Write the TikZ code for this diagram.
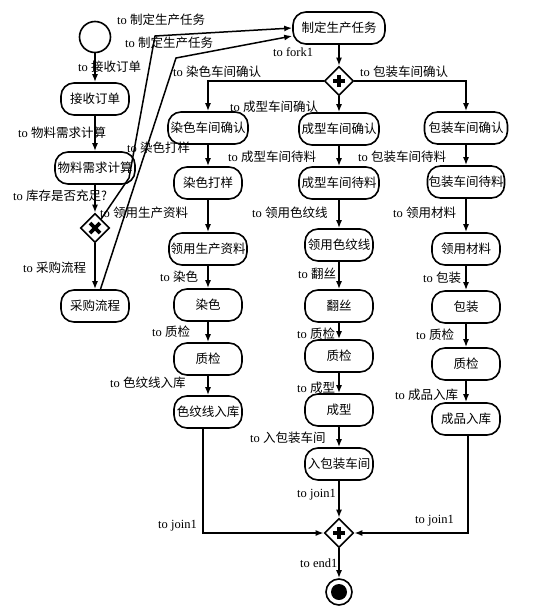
\documentclass[tikz,border=0pt]{standalone}
\usepackage{fontspec}
\setmainfont{Liberation Serif}
\newfontfamily\cjk{Noto Sans CJK SC}
\usetikzlibrary{arrows.meta, positioning, shapes.geometric}

\newcommand{\zh}[1]{{\cjk #1}}

\tikzset{
  act/.style={draw, rounded corners=13pt, line width=1.6pt, minimum width=68pt, minimum height=32pt, inner xsep=1pt, fill=white, font=\fontsize{12.5}{14}\selectfont\cjk},
  lbl/.style={anchor=west, inner sep=0pt, font=\fontsize{12.5}{14}\selectfont},
  flow/.style={line width=1.5pt, -{Latex[length=8pt,width=6pt]}},
  gate/.style={diamond, draw, line width=1.6pt, minimum width=29pt, minimum height=29pt, inner sep=0pt, fill=white},
  forkbar/.style={gate, path picture={
    \draw[line width=3.8pt] ([xshift=-6pt]path picture bounding box.center) -- ([xshift=6pt]path picture bounding box.center);
    \draw[line width=3.8pt] ([yshift=-6pt]path picture bounding box.center) -- ([yshift=6pt]path picture bounding box.center);}},
  choice/.style={gate, path picture={
    \draw[line width=3.8pt] ([shift={(-5pt,-5pt)}]path picture bounding box.center) -- ([shift={(5pt,5pt)}]path picture bounding box.center);
    \draw[line width=3.8pt] ([shift={(-5pt,5pt)}]path picture bounding box.center) -- ([shift={(5pt,-5pt)}]path picture bounding box.center);}}
}

\begin{document}
\begin{tikzpicture}[x=1pt, y=-1pt]
\useasboundingbox (0,0) rectangle (534,616);

% left: order and material check
\node (start) at (95,37) [draw, circle, line width=1.6pt, minimum size=31pt] {};
\node (jieshou) at (95,99) [act] {接收订单};
\node (wuliao) at (95,168) [act, minimum width=80pt] {物料需求计算};
\node (pan) at (95,228) [choice] {};
\node (caigou) at (95,306) [act] {采购流程};

% top
\node (zd) at (339,28) [act, minimum width=92pt] {制定生产任务};
\node (fork1) at (339,81) [forkbar] {};

% dyeing workshop
\node (ran1) at (208,128) [act, minimum width=80pt] {染色车间确认};
\node (ran2) at (208,183) [act] {染色打样};
\node (ran3) at (208,249) [act, minimum width=78pt] {领用生产资料};
\node (ran4) at (208,305) [act] {染色};
\node (ran5) at (208,359) [act] {质检};
\node (ran6) at (208,412) [act] {色纹线入库};

% forming workshop
\node (cheng1) at (339,129) [act, minimum width=80pt] {成型车间确认};
\node (cheng2) at (339,183) [act, minimum width=80pt] {成型车间待料};
\node (cheng3) at (339,245) [act] {领用色纹线};
\node (cheng4) at (339,306) [act] {翻丝};
\node (cheng5) at (339,356) [act] {质检};
\node (cheng6) at (339,410) [act] {成型};
\node (cheng7) at (339,464) [act] {入包装车间};

% packing workshop
\node (bao1) at (466,128) [act, minimum width=83pt] {包装车间确认};
\node (bao2) at (466,182) [act] {包装车间待料};
\node (bao3) at (466,249) [act] {领用材料};
\node (bao4) at (466,307) [act] {包装};
\node (bao5) at (466,364) [act] {质检};
\node (bao6) at (466,419) [act] {成品入库};

% end
\node (join1) at (339,533) [forkbar] {};
\node (end1) at (339,592) [draw, circle, line width=1.6pt, minimum size=26pt, inner sep=0pt, path picture={\fill (path picture bounding box.center) circle (8pt);}] {};

\coordinate (k1) at (129,178);
\coordinate (k2) at (155,36);
\coordinate (k3) at (176,58);

\draw[flow] (start) -- (jieshou);
\draw[flow] (jieshou) -- (wuliao);
\draw[flow] (wuliao) -- (pan);
\draw[flow] (pan) -- (caigou);
\draw[flow] (pan) -- (k1) -- (k2) -- (zd.west);
\draw[flow] (caigou) -- (k3) -- ([yshift=-8pt]zd.west);
\draw[flow] (zd) -- (fork1);
\draw[flow] (fork1.west) -| (ran1.north);
\draw[flow] (fork1) -- (cheng1);
\draw[flow] (fork1.east) -| (bao1.north);

\draw[flow] (ran1) -- (ran2);
\draw[flow] (ran2) -- (ran3);
\draw[flow] (ran3) -- (ran4);
\draw[flow] (ran4) -- (ran5);
\draw[flow] (ran5) -- (ran6);
\draw[flow] ([xshift=-5pt]ran6.south) |- (join1.west);

\draw[flow] (cheng1) -- (cheng2);
\draw[flow] (cheng2) -- (cheng3);
\draw[flow] (cheng3) -- (cheng4);
\draw[flow] (cheng4) -- (cheng5);
\draw[flow] (cheng5) -- (cheng6);
\draw[flow] (cheng6) -- (cheng7);
\draw[flow] (cheng7) -- (join1);

\draw[flow] (bao1) -- (bao2);
\draw[flow] (bao2) -- (bao3);
\draw[flow] (bao3) -- (bao4);
\draw[flow] (bao4) -- (bao5);
\draw[flow] (bao5) -- (bao6);
\draw[flow] ([xshift=2pt]bao6.south) |- (join1.east);

\draw[flow] (join1) -- (end1);

% edge labels
\node (t1) at (117,20) [lbl] {to \zh{制定生产任务}};
\node (t2) at (125,43) [lbl] {to \zh{制定生产任务}};
\node (t3) at (78,67) [lbl] {to \zh{接收订单}};
\node (t4) at (18,133) [lbl] {to \zh{物料需求计算}};
\node (t5) at (13,196) [lbl] {to \zh{库存是否充足?}};
\node (t6) at (23,268) [lbl] {to \zh{采购流程}};
\node (t7) at (273,52) [lbl] {to fork1};
\node (t8) at (173,72) [lbl] {to \zh{染色车间确认}};
\node (t9) at (230,107) [lbl] {to \zh{成型车间确认}};
\node (t10) at (360,72) [lbl] {to \zh{包装车间确认}};
\node (t11) at (127,148) [lbl] {to \zh{染色打样}};
\node (t12) at (228,157) [lbl] {to \zh{成型车间待料}};
\node (t13) at (358,157) [lbl] {to \zh{包装车间待料}};
\node (t14) at (100,213) [lbl] {to \zh{领用生产资料}};
\node (t15) at (252,213) [lbl] {to \zh{领用色纹线}};
\node (t16) at (393,213) [lbl] {to \zh{领用材料}};
\node (t17) at (160,277) [lbl] {to \zh{染色}};
\node (t18) at (298,274) [lbl] {to \zh{翻丝}};
\node (t19) at (423,278) [lbl] {to \zh{包装}};
\node (t20) at (152,332) [lbl] {to \zh{质检}};
\node (t21) at (297,334) [lbl] {to \zh{质检}};
\node (t22) at (416,335) [lbl] {to \zh{质检}};
\node (t23) at (110,383) [lbl] {to \zh{色纹线入库}};
\node (t24) at (297,388) [lbl] {to \zh{成型}};
\node (t25) at (395,395) [lbl] {to \zh{成品入库}};
\node (t26) at (250,438) [lbl] {to \zh{入包装车间}};
\node (t27) at (297,495) [lbl] {to join1};
\node (t28) at (158,526) [lbl] {to join1};
\node (t29) at (415,521) [lbl] {to join1};
\node (t30) at (300,563) [lbl] {to end1};
\end{tikzpicture}
\end{document}
